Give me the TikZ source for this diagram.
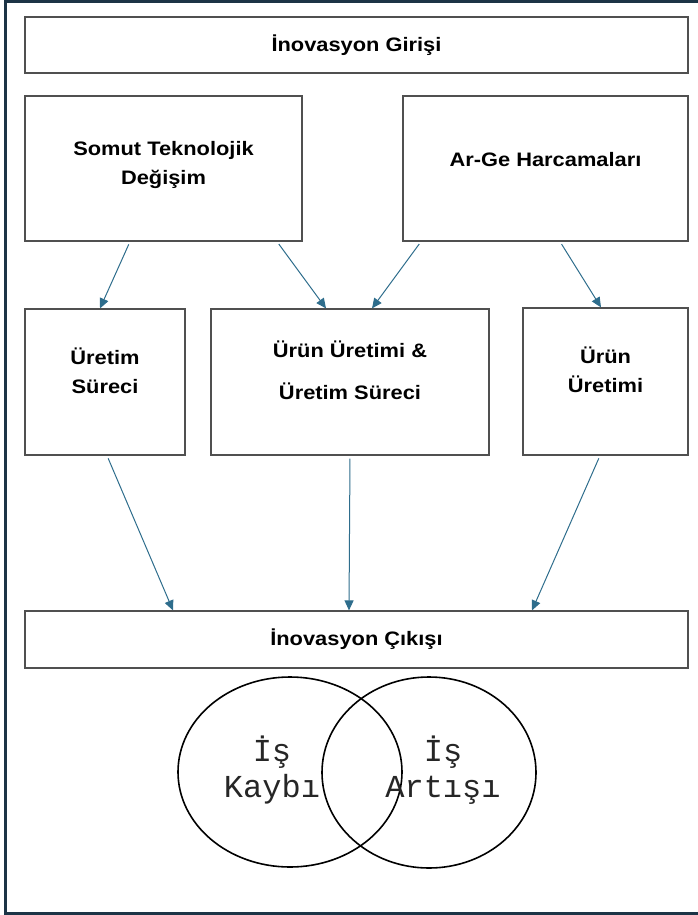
\documentclass[tikz,border=0pt]{standalone}
\usepackage{fontspec}
\setmainfont{Liberation Sans}[FakeStretch=1.12]
\setmonofont{Liberation Mono}
\usetikzlibrary{arrows.meta,shapes.geometric}
\definecolor{okmavi}{HTML}{2E6D8C}
\definecolor{cerceve}{HTML}{1C3446}
\definecolor{kutugri}{HTML}{505050}
\begin{document}
\begin{tikzpicture}[x=1pt,y=-1pt,
		kutu/.style={draw=kutugri,line width=1.2pt,align=center,inner sep=0pt,
			font=\fontsize{19.5}{29}\selectfont\bfseries},
		ok/.style={draw=okmavi,line width=1pt,-{Triangle[length=10pt,width=9pt]},shorten <=3pt},
		halka/.style={ellipse,draw=black,line width=1.6pt,inner sep=0pt},
		yazi/.style={align=center,text=black!85,font=\fontsize{32}{36}\selectfont\ttfamily}]
		  \useasboundingbox (0,0) rectangle (698,915);
		  \draw[cerceve,line width=3pt] (5,1.5) -- (703,1.5) -- (703,913.5) -- (5,913.5) -- cycle;
		  % kutular
		  \node[kutu,minimum width=663,minimum height=56] (giris) at (356.5,45) {İnovasyon Girişi};
		  \node[kutu,minimum width=277,minimum height=145,text depth=12pt] (somut) at (163.5,168.5) {Somut Teknolojik\\Değişim};
		  \node[kutu,minimum width=285,minimum height=145,text depth=18pt] (arge) at (545.5,168.5) {Ar-Ge Harcamaları};
		  \node[kutu,minimum width=160,minimum height=146,text depth=23pt] (uretim) at (105,382) {Üretim\\Süreci};
		  \node[kutu,minimum width=278,minimum height=146,text depth=23pt] (ikisi) at (350,382) {Ürün Üretimi \&\\[13pt]Üretim Süreci};
		  \node[kutu,minimum width=165,minimum height=147,text depth=23pt] (urun) at (605.5,381.5) {Ürün\\Üretimi};
		  \node[kutu,minimum width=663,minimum height=57] (cikis) at (356.5,639.5) {İnovasyon Çıkışı};
		  % oklar
		  \draw[ok] ([xshift=-33.5]somut.south) -- ([xshift=-5]uretim.north);
		  \draw[ok] ([xshift=113.5]somut.south) -- ([xshift=-24]ikisi.north);
		  \draw[ok] ([xshift=-124.5]arge.south) -- ([xshift=22]ikisi.north);
		  \draw[ok] ([xshift=14.5]arge.south) -- ([xshift=-4.5]urun.north);
		  \draw[ok] ([xshift=2]uretim.south) -- ([xshift=-183.5]cikis.north);
		  \draw[ok] (ikisi.south) -- ([xshift=-7.5]cikis.north);
		  \draw[ok] ([xshift=-5.5]urun.south) -- ([xshift=175.5]cikis.north);
		  % kume
		  \node[halka,minimum width=224,minimum height=190] (kayip) at (290,772) {};
		  \node[halka,minimum width=214,minimum height=191] (artis) at (429,772.5) {};
		  \node[yazi] (kayipyazi) at (272,770) {İş\\Kaybı};
		  \node[yazi] (artisyazi) at (443,770) {İş\\Artışı};
\end{tikzpicture}
\end{document}
